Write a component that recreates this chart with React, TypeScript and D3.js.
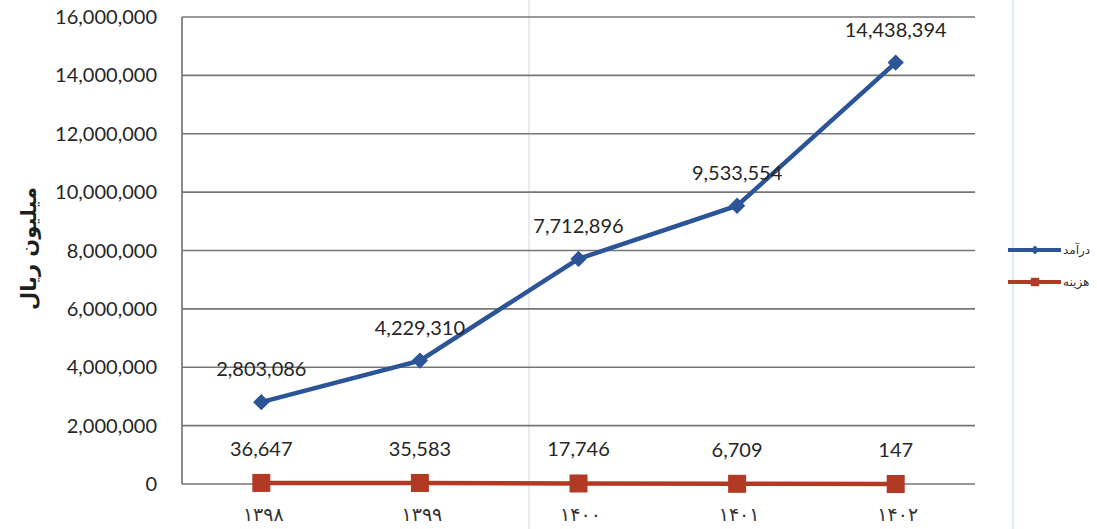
import React, { useEffect, useRef } from 'react';
import * as d3 from 'd3';

// years (Persian calendar) on the x axis
const years = ['۱۳۹۸', '۱۳۹۹', '۱۴۰۰', '۱۴۰۱', '۱۴۰۲'];
// درآمد (revenue) and هزینه (expense), million rials
const revenue = [2803086, 4229310, 7712896, 9533554, 14438394];
const expense = [36647, 35583, 17746, 6709, 147];
const yTicks = [0, 2000000, 4000000, 6000000, 8000000, 10000000, 12000000, 14000000, 16000000];
const seriesNames = ['درآمد', 'هزینه'];

const App = () => {
    const svgRef = useRef<SVGSVGElement>(null);

    useEffect(() => {
        const width = 1097;
        const height = 529;
        const left = 182;
        const right = 975;
        const top = 17;
        const bottom = 484;

        const svg = d3.select(svgRef.current);
        svg.selectAll('*').remove();
        svg.attr('width', width).attr('height', height);

        svg.append('rect').attr('width', width).attr('height', height).attr('fill', '#fff');

        // scan artifacts: faint crease and plot border
        svg.append('line').attr('x1', 529).attr('x2', 529).attr('y1', 0).attr('y2', height)
            .attr('stroke', '#e4e4e8').attr('stroke-width', 1.5);
        svg.append('line').attr('x1', 1013).attr('x2', 1013).attr('y1', 0).attr('y2', height)
            .attr('stroke', '#d8eef6').attr('stroke-width', 2);

        const x = d3.scaleBand().domain(years).range([left, right]);
        const cx = (i: number) => (x(years[i]) as number) + x.bandwidth() / 2;
        const y = d3.scaleLinear().domain([0, 16000000]).range([bottom, top]);
        const fmt = d3.format(',');

        // horizontal gridlines
        svg.append('g').selectAll('line').data(yTicks).enter().append('line')
            .attr('x1', left).attr('x2', right)
            .attr('y1', d => y(d)).attr('y2', d => y(d))
            .attr('stroke', '#767676').attr('stroke-width', 1.7);

        // left axis line
        svg.append('line').attr('x1', left).attr('x2', left).attr('y1', top).attr('y2', bottom)
            .attr('stroke', '#767676').attr('stroke-width', 1.7);

        const numFont = 'Lato, "Open Sans", sans-serif';

        // y tick labels
        svg.append('g').selectAll('text').data(yTicks).enter().append('text')
            .attr('x', 157).attr('y', d => y(d)).attr('dy', '0.35em')
            .attr('text-anchor', 'end')
            .attr('font-family', numFont)
            .attr('font-size', 20).attr('fill', '#262626')
            .text(d => fmt(d));

        // x tick labels
        svg.append('g').selectAll('text').data(years).enter().append('text')
            .attr('x', (d, i) => cx(i) + 2).attr('y', 521)
            .attr('text-anchor', 'middle')
            .attr('font-family', '"DejaVu Sans", sans-serif')
            .attr('font-size', 19).attr('fill', '#333')
            .text(d => d);

        // y axis title
        svg.append('text')
            .attr('transform', `translate(36,${(top + bottom) / 2 - 2}) rotate(-90)`)
            .attr('text-anchor', 'middle')
            .attr('font-family', '"DejaVu Sans", sans-serif')
            .attr('font-weight', 'bold').attr('font-size', 21).attr('fill', '#1e1e1e')
            .text('میلیون ریال');

        const line = d3.line<number>().x((d, i) => cx(i)).y(d => y(d));

        // expense series (red, squares)
        svg.append('path').datum(expense).attr('d', line)
            .attr('fill', 'none').attr('stroke', '#b23a25').attr('stroke-width', 4.5);
        svg.append('g').selectAll('rect').data(expense).enter().append('rect')
            .attr('x', (d, i) => cx(i) - 9).attr('y', d => y(d) - 9)
            .attr('width', 18).attr('height', 18).attr('fill', '#b23a25');

        // revenue series (blue, diamonds)
        svg.append('path').datum(revenue).attr('d', line)
            .attr('fill', 'none').attr('stroke', '#2b5597').attr('stroke-width', 4.5);
        const diamond = d3.symbol().type(d3.symbolDiamond2).size(170);
        svg.append('g').selectAll('path').data(revenue).enter().append('path')
            .attr('d', diamond)
            .attr('transform', (d, i) => `translate(${cx(i)},${y(d)})`)
            .attr('fill', '#2b5597');

        // value labels
        svg.append('g').selectAll('text').data(revenue).enter().append('text')
            .attr('x', (d, i) => cx(i)).attr('y', d => y(d) - 26)
            .attr('text-anchor', 'middle').attr('font-family', numFont)
            .attr('font-size', 20).attr('fill', '#262626')
            .text(d => fmt(d));
        svg.append('g').selectAll('text').data(expense).enter().append('text')
            .attr('x', (d, i) => cx(i)).attr('y', d => y(d) - 27)
            .attr('text-anchor', 'middle').attr('font-family', numFont)
            .attr('font-size', 20).attr('fill', '#262626')
            .text(d => fmt(d));

        // legend
        const legendColors = ['#2b5597', '#b23a25'];
        const lg = svg.append('g').selectAll('g').data(seriesNames).enter().append('g')
            .attr('transform', (d, i) => `translate(0,${250 + i * 32})`);
        lg.append('line').attr('x1', 1008).attr('x2', 1061).attr('y1', 0).attr('y2', 0)
            .attr('stroke', (d, i) => legendColors[i]).attr('stroke-width', 4);
        lg.append('path')
            .attr('d', (d, i) => (i === 0
                ? d3.symbol().type(d3.symbolDiamond2).size(50)()
                : d3.symbol().type(d3.symbolSquare2).size(90)()) as string)
            .attr('transform', 'translate(1035,0)')
            .attr('fill', (d, i) => legendColors[i]);
        lg.append('text').attr('x', 1063).attr('y', 0).attr('dy', '0.35em')
            .attr('font-family', '"DejaVu Sans", sans-serif').attr('font-size', 12)
            .attr('fill', '#333')
            .text(d => d);
    }, []);

    return <svg ref={svgRef} style={{ position: 'absolute', left: 0, top: 0 }}></svg>;
};

export default App;
